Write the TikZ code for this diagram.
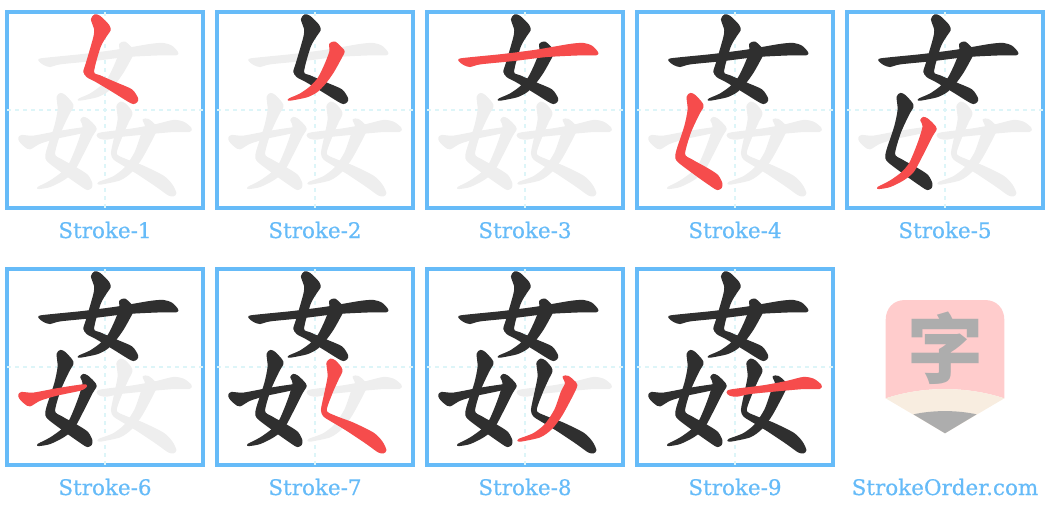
\documentclass[tikz,border=0pt]{standalone}
\usepackage{fontspec}
\usepackage{xcolor}
\usetikzlibrary{positioning}
\setmainfont{DejaVu Serif}
\newfontfamily\capfont[FakeBold=0.6]{DejaVu Serif}
\newfontfamily\cjk{Noto Sans CJK SC}
\definecolor{frame}  {HTML}{66BBF8}
\definecolor{guide}  {HTML}{DDF5F8}
\definecolor{ghostgray}{HTML}{EEEEEE}
\definecolor{ink}    {HTML}{2F2F2F}
\definecolor{active} {HTML}{F64C4C}
\definecolor{eraser} {HTML}{FFCCCC}
\definecolor{wood}   {HTML}{F8EDE0}
\definecolor{lead}   {HTML}{ADADAD}
\expandafter\def\csname pts1\endcsname{(275,58)(285,45)(300,50)(325,75)(330,90)(320,105)(300,140)(280,215)(300,228)(350,250)(395,270)(412,295)(410,305)(400,310)(385,303)(340,275)(290,245)(262,230)(252,215)(258,195)(280,120)(285,90)}
\expandafter\def\csname pts2\endcsname{(360,132)(375,127)(395,145)(402,155)(395,170)(370,215)(345,250)(320,275)(290,290)(240,300)(238,297)(270,283)(300,262)(325,235)(345,195)(360,155)}
\expandafter\def\csname pts3\endcsname{(117,179)(150,174)(250,164)(350,151)(450,134)(490,131)(515,139)(532,157)(528,164)(480,164)(380,169)(280,181)(180,191)(150,199)(130,192)}
\expandafter\def\csname pts4\endcsname{(172,291)(182,281)(195,287)(215,309)(218,321)(205,344)(180,399)(163,462)(185,480)(230,505)(262,526)(275,550)(273,563)(262,568)(245,558)(205,530)(150,489)(138,474)(142,449)(165,379)(175,329)}
\expandafter\def\csname pts5\endcsname{(243,361)(250,353)(262,357)(280,374)(288,387)(275,409)(250,459)(220,514)(190,539)(150,559)(118,565)(115,562)(150,544)(185,519)(210,489)(235,429)(250,379)}
\expandafter\def\csname pts6\endcsname{(57,414)(65,407)(100,409)(170,396)(250,384)(258,389)(240,399)(170,414)(120,429)(90,446)(75,439)(60,424)}
\expandafter\def\csname pts7\endcsname{(352,316)(362,307)(375,312)(392,331)(395,344)(385,364)(365,409)(348,461)(375,478)(430,499)(490,529)(515,554)(527,579)(520,587)(505,584)(470,559)(410,519)(360,489)(342,477)(335,459)(345,409)(355,359)(352,327)}
\expandafter\def\csname pts8\endcsname{(430,359)(445,359)(460,371)(470,384)(460,409)(425,474)(395,514)(360,539)(300,552)(298,547)(340,531)(375,504)(405,459)(425,404)(437,379)}
\expandafter\def\csname pts9\endcsname{(292,406)(305,399)(400,387)(470,374)(520,362)(550,367)(572,384)(568,394)(520,394)(440,401)(360,409)(320,417)(300,414)}
\newcommand{\hanzistroke}[2]{\edef\tmpstroke{\noexpand\filldraw[#1] plot[smooth cycle,tension=0.45] coordinates {\csname pts#2\endcsname};}\tmpstroke}
\tikzset{
  cellbox/.style={draw=frame,line width=3pt,minimum size=147pt,inner sep=0pt},
  gridline/.style={draw=guide,line width=0.9pt,dash pattern=on 3pt off 3pt,shorten <=1.5pt,shorten >=1.5pt},
  brush/.style={line width=1.1pt,line join=round},
  ghost/.style={brush,fill=ghostgray,draw=ghostgray},
  done/.style={brush,fill=ink,draw=ink},
  now/.style={brush,fill=active,draw=active},
  caption/.style={text=frame,font=\capfont\fontsize{16.1}{19}\selectfont,inner sep=0pt}
}
\begin{document}
\begin{tikzpicture}[x=0.25pt,y=-0.25pt]
  \useasboundingbox (0,0) rectangle (3150,1542);
  \foreach \n/\col/\row in {1/0/0,2/1/0,3/2/0,4/3/0,5/4/0,6/0/1,7/1/1,8/2/1,9/3/1}{
    \begin{scope}[shift={(\col*630,\row*771)}]
      \node[cellbox] (box\n) at (315,330) {};
      \draw[gridline] (box\n.west) -- (box\n.east);
      \draw[gridline] (box\n.north) -- (box\n.south);
      \foreach \s in {1,...,9}{\hanzistroke{ghost}{\s}}
      \foreach \s in {1,...,\n}{
        \ifnum\s=\n \hanzistroke{now}{\s}\else \hanzistroke{done}{\s}\fi
      }
      \node[caption] (label\n) at (315,690) {Stroke-\n};
    \end{scope}
  }
  % pencil
  \begin{scope}[shift={(2520,840)}]
    \fill[eraser] (137,355) -- (137,120) .. controls (137,85) and (160,60) .. (195,60) -- (435,60)
      .. controls (470,60) and (493,85) .. (493,120) -- (493,355)
      .. controls (380,318) and (250,318) .. cycle;
    \fill[wood] (137,355) .. controls (250,318) and (380,318) .. (493,355) -- (315,460) -- cycle;
    \fill[lead] (220,403) .. controls (280,390) and (350,390) .. (410,403) -- (315,460) -- cycle;
    \node[text=lead,font=\cjk\bfseries\fontsize{57}{57}\selectfont,inner sep=0pt] (logochar) at (315,205) {字};
  \end{scope}
  \node[caption] (sitename) at (2835,1461) {StrokeOrder.com};
\end{tikzpicture}
\end{document}
